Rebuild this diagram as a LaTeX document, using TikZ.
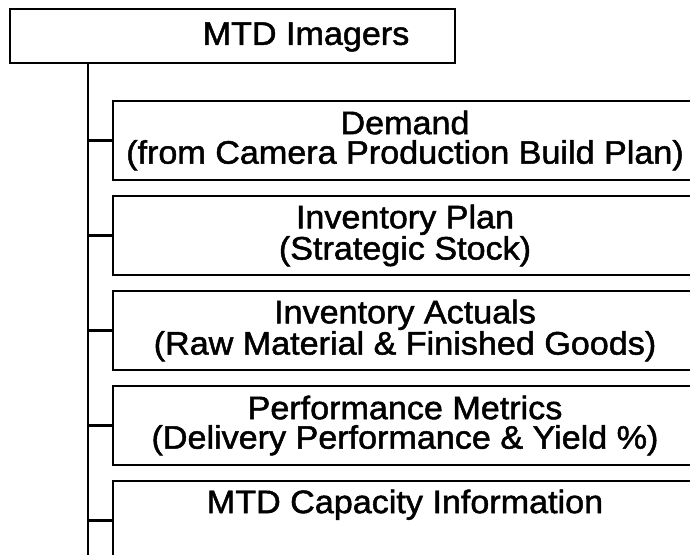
\documentclass[tikz,border=0pt]{standalone}
\usepackage{fontspec}
\setmainfont{Liberation Sans}
\newfontfamily\bodyfont[FakeBold=1.5,FakeStretch=1.05]{Liberation Sans}
\begin{document}
\begin{tikzpicture}[x=1pt,y=-1pt,
  boxstyle/.style={draw=black, line width=2pt, rectangle, inner sep=0pt,
    font=\bodyfont\fontsize{32.5}{29.5}\selectfont, align=center},
  linkstyle/.style={draw=black, line width=2.2pt}]
\useasboundingbox (0,0) rectangle (690,554);
\clip (0,0) rectangle (690,554);
\node[boxstyle, minimum width=445pt, minimum height=54pt] (top) at (232.5,36) {};
\node[font=\bodyfont\fontsize{32.5}{29.5}\selectfont, inner sep=0pt] (toplabel) at (306,37) {MTD Imagers};
\node[boxstyle, minimum width=584pt, minimum height=79pt] (b1) at (405,140.5) {Demand\\(from Camera Production Build Plan)};
\node[boxstyle, minimum width=584pt, minimum height=79pt] (b2) at (405,235.5) {Inventory Plan\\(Strategic Stock)};
\node[boxstyle, minimum width=584pt, minimum height=79pt] (b3) at (405,330.5) {Inventory Actuals\\(Raw Material \& Finished Goods)};
\node[boxstyle, minimum width=584pt, minimum height=79pt] (b4) at (405,425.5) {Performance Metrics\\(Delivery Performance \& Yield \%)};
\node[boxstyle, minimum width=584pt, minimum height=79pt] (b5) at (405,520.5) {MTD Capacity Information\\\strut};
\coordinate (spine) at (88,0);
\coordinate (spineend) at (88,560);
\draw[linkstyle] (spine |- top.south) -- (spineend);
\foreach \b in {b1,b2,b3,b4,b5} {
  \draw[linkstyle] (spine |- \b.west) -- (\b.west);
}
\end{tikzpicture}
\end{document}
